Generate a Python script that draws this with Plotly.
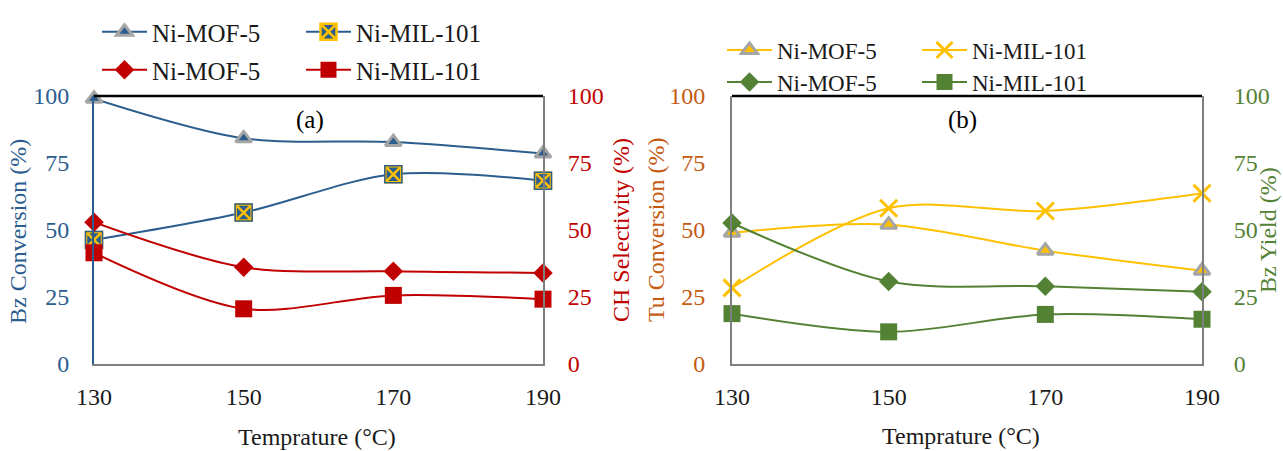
import plotly.graph_objects as go

# Reaction temperatures (°C)
temps = [130, 150, 170, 190]

# Panel (a): benzene conversion (left axis) and CH selectivity (right axis)
bz_conv_mof5 = [99, 84.2, 82.8, 78.5]
bz_conv_mil101 = [46.3, 56.5, 70.8, 68.4]
ch_sel_mof5 = [52.9, 36.1, 34.6, 34.0]
ch_sel_mil101 = [41.5, 20.6, 25.6, 24.2]

# Panel (b): toluene conversion (left axis) and benzene yield (right axis)
tu_conv_mof5 = [49.0, 52.0, 42.3, 34.8]
tu_conv_mil101 = [28.4, 58.1, 57.1, 63.7]
bz_yield_mof5 = [52.6, 30.8, 29.0, 27.0]
bz_yield_mil101 = [18.8, 12.0, 18.5, 16.7]

y_ticks = [0, 25, 50, 75, 100]
x_ticks = [130, 150, 170, 190]

FONT = "Liberation Serif, Times New Roman, serif"
BLUE = "#2B5D8E"
RED = "#C00000"
ORANGE = "#C55A11"
YELLOW = "#FFC000"
GREEN = "#548235"
GRAY = "#A5A5A5"
AXIS_GRAY = "#7F7F7F"
TEXT = "#1A1A1A"

W, H = 1283, 451
A_X = [94 / W, 543 / W]
B_X = [732 / W, 1202 / W]
Y_DOM = [1 - 364 / H, 1 - 96 / H]

fig = go.Figure()


def line_trace(y, name, color, marker, xaxis, yaxis, legend, showlegend=True):
    return go.Scatter(
        x=temps, y=y, name=name, mode="lines+markers",
        line=dict(color=color, width=2, shape="spline", smoothing=0.9),
        marker=marker, xaxis=xaxis, yaxis=yaxis, legend=legend,
        showlegend=showlegend, cliponaxis=False,
    )


# ---- Panel (a)
fig.add_trace(line_trace(bz_conv_mof5, "Ni-MOF-5", BLUE,
                         dict(symbol="triangle-up", size=14, color=BLUE,
                              line=dict(color=GRAY, width=3)),
                         "x", "y", "legend"))
fig.add_trace(line_trace(bz_conv_mil101, "Ni-MIL-101", BLUE,
                         dict(symbol="square-x", size=16, color=BLUE,
                              line=dict(color=YELLOW, width=2.5)),
                         "x", "y", "legend"))
fig.add_trace(line_trace(ch_sel_mof5, "Ni-MOF-5", RED,
                         dict(symbol="diamond", size=15, color=RED),
                         "x", "y2", "legend2"))
fig.add_trace(line_trace(ch_sel_mil101, "Ni-MIL-101", RED,
                         dict(symbol="square", size=17, color=RED),
                         "x", "y2", "legend2"))
# dark rim around the crossed squares
fig.add_trace(go.Scatter(x=temps, y=bz_conv_mil101, mode="markers",
                         marker=dict(symbol="square-open", size=17,
                                     color=BLUE, line=dict(color=BLUE, width=1.5)),
                         xaxis="x", yaxis="y", showlegend=False,
                         cliponaxis=False, hoverinfo="skip"))

# ---- Panel (b)
fig.add_trace(line_trace(tu_conv_mof5, "Ni-MOF-5", YELLOW,
                         dict(symbol="triangle-up", size=14, color=YELLOW,
                              line=dict(color=GRAY, width=3)),
                         "x2", "y3", "legend3"))
fig.add_trace(line_trace(tu_conv_mil101, "Ni-MIL-101", YELLOW,
                         dict(symbol="x-thin-open", size=17, color=YELLOW,
                              line=dict(color=YELLOW, width=3)),
                         "x2", "y3", "legend3"))
fig.add_trace(line_trace(bz_yield_mof5, "Ni-MOF-5", GREEN,
                         dict(symbol="diamond", size=15, color=GREEN),
                         "x2", "y4", "legend4"))
fig.add_trace(line_trace(bz_yield_mil101, "Ni-MIL-101", GREEN,
                         dict(symbol="square", size=17, color=GREEN),
                         "x2", "y4", "legend4"))


def xaxis_cfg(domain, anchor):
    return dict(domain=domain, anchor=anchor, range=[130, 190],
                tickvals=x_ticks, showgrid=False, zeroline=False,
                showline=True, linecolor=AXIS_GRAY, linewidth=2,
                ticks="", ticklabelstandoff=10, automargin=False,
                tickfont=dict(family=FONT, size=24, color=TEXT))


def yaxis_cfg(color, line_color, side, standoff, anchor, overlaying=None):
    cfg = dict(domain=Y_DOM, anchor=anchor, range=[0, 100], tickvals=y_ticks,
               showgrid=False, zeroline=False, showline=True,
               linecolor=line_color, linewidth=2, ticks="", side=side,
               ticklabelstandoff=standoff, automargin=False,
               tickfont=dict(family=FONT, size=24, color=color))
    if overlaying:
        cfg["overlaying"] = overlaying
    return cfg


legend_common = dict(orientation="h", xanchor="left", yanchor="middle",
                     itemwidth=45, entrywidthmode="pixels",
                     bgcolor="rgba(0,0,0,0)", tracegroupgap=0,
                     traceorder="normal")

fig.update_layout(
    template="none",
    width=W, height=H,
    margin=dict(l=0, r=0, t=0, b=0, autoexpand=False),
    paper_bgcolor="white", plot_bgcolor="white",
    font=dict(family=FONT, color=TEXT),
    xaxis=xaxis_cfg(A_X, "y"),
    xaxis2=xaxis_cfg(B_X, "y3"),
    yaxis=yaxis_cfg(BLUE, BLUE, "left", 18, "x"),
    yaxis2=yaxis_cfg(RED, AXIS_GRAY, "right", 18, "x", "y"),
    yaxis3=yaxis_cfg(ORANGE, AXIS_GRAY, "left", 20, "x2"),
    yaxis4=yaxis_cfg(GREEN, AXIS_GRAY, "right", 25, "x2", "y3"),
    legend=dict(legend_common, x=97 / W, y=1 - 32 / H, entrywidth=144,
                font=dict(family=FONT, size=25, color=TEXT)),
    legend2=dict(legend_common, x=97 / W, y=1 - 70 / H, entrywidth=144,
                 font=dict(family=FONT, size=25, color=TEXT)),
    legend3=dict(legend_common, x=722 / W, y=1 - 50 / H, entrywidth=135,
                 font=dict(family=FONT, size=23, color=TEXT)),
    legend4=dict(legend_common, x=722 / W, y=1 - 82 / H, entrywidth=135,
                 font=dict(family=FONT, size=23, color=TEXT)),
    showlegend=True,
)

# black top border of both plot frames
for xr, yr in (("x domain", "y domain"), ("x2 domain", "y3 domain")):
    fig.add_shape(type="line", xref=xr, yref=yr, x0=0, x1=1, y0=1, y1=1,
                  line=dict(color="black", width=2.5), layer="above")

# panel labels
fig.add_annotation(text="(a)", xref="x domain", yref="y domain", x=0.48, y=0.91,
                   xanchor="center", yanchor="middle", showarrow=False,
                   font=dict(family=FONT, size=25, color="black"))
fig.add_annotation(text="(b)", xref="x2 domain", yref="y3 domain", x=0.49, y=0.91,
                   xanchor="center", yanchor="middle", showarrow=False,
                   font=dict(family=FONT, size=25, color="black"))

# axis titles
titles = [
    ("Bz Conversion (%)", 18, 232, -90, BLUE),
    ("CH Selectivity (%)", 621, 230, -90, RED),
    ("Tu Conversion (%)", 656, 230, -90, ORANGE),
    ("Bz Yield (%)", 1268, 230, -90, GREEN),
    ("Temprature (°C)", 317, 437, 0, TEXT),
    ("Temprature (°C)", 961, 436, 0, TEXT),
]
for text, px, py, ang, col in titles:
    fig.add_annotation(text=text, xref="paper", yref="paper", x=px / W, y=1 - py / H,
                       xanchor="center", yanchor="middle", showarrow=False,
                       textangle=ang, font=dict(family=FONT, size=24, color=col))

fig.write_html("out.html")
